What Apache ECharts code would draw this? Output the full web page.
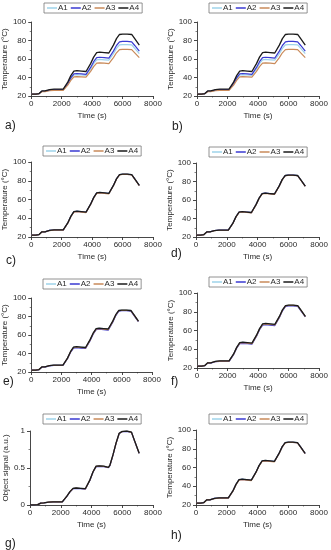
<!DOCTYPE html>
<html>
<head>
<meta charset="utf-8">
<script src="https://cdn.jsdelivr.net/npm/echarts@6/dist/echarts.min.js"></script>
<style>
html,body{margin:0;padding:0;background:#fff;}
#chart{width:331px;height:550px;}
</style>
</head>
<body>
<div id="chart"></div>
<script>
// ---- data ----
const seriesNames = ['A1', 'A2', 'A3', 'A4'];
const panelLabels = ['a)', 'b)', 'c)', 'd)', 'e)', 'f)', 'g)', 'h)'];
const xTicks = [0, 2000, 4000, 6000, 8000];
const tempTicks = [20, 40, 60, 80, 100];
const signalTicks = [0, 0.5, 1];

const time = [0, 300, 500, 600, 700, 900, 1000, 1200, 1500, 1800, 2100, 2200, 2400, 2600, 2800, 3000, 3300, 3600, 3700, 3900, 4100, 4300, 4500, 4800, 5100, 5200, 5400, 5600, 5800, 6000, 6300, 6600, 6800, 7100];

// panels a) and b)
const aA1 = [22, 22, 22.4, 23.6, 24.9, 24.9, 25.3, 26.1, 26.5, 26.5, 26.5, 27.8, 32.8, 38.5, 42.7, 43.1, 42.7, 42.3, 43.5, 49.3, 55.0, 59.1, 59.5, 59.1, 58.7, 59.9, 65.7, 71.5, 75.2, 75.6, 75.6, 75.2, 71.5, 65.7];
const aA2 = [22, 22, 22.4, 23.8, 25.1, 25.1, 25.5, 26.4, 26.8, 26.8, 26.8, 28.1, 33.4, 39.5, 43.9, 44.3, 43.9, 43.4, 44.7, 50.9, 57.1, 61.5, 61.9, 61.5, 61.0, 62.3, 68.5, 74.6, 78.6, 79.0, 79.0, 78.6, 74.6, 68.5];
const aA3 = [22, 22, 22.4, 23.5, 24.6, 24.6, 24.9, 25.7, 26.1, 26.1, 26.1, 27.2, 31.7, 36.9, 40.7, 41.0, 40.7, 40.3, 41.4, 46.6, 51.8, 55.5, 55.9, 55.5, 55.1, 56.3, 61.5, 66.7, 70.1, 70.5, 70.5, 70.1, 66.7, 61.5];
const aA4 = [22, 22, 22.5, 24, 25.5, 25.5, 26, 27, 27.5, 27.5, 27.5, 29, 35, 42, 47, 47.5, 47, 46.5, 48, 55, 62, 67, 67.5, 67, 66.5, 68, 75, 82, 86.5, 87, 87, 86.5, 82, 75];

// panels c), d), h)
const cA1 = [22, 22, 22.5, 24, 25.5, 25.5, 26, 27, 27.5, 27.5, 27.5, 29, 35, 42, 47, 47.5, 47, 46.5, 48, 55, 62, 67, 67.5, 67, 66.5, 68, 75, 82, 86.5, 87, 87, 86.5, 82, 75];
const cA2 = [22, 22, 22.5, 24, 25.5, 25.5, 26, 27, 27.4, 27.4, 27.4, 28.9, 34.9, 41.9, 46.9, 47.4, 46.9, 46.4, 47.9, 54.9, 61.9, 66.9, 67.4, 66.9, 66.4, 67.9, 74.9, 81.9, 86.4, 86.9, 86.9, 86.4, 81.9, 74.9];
const cA3 = [22, 22, 22.4, 23.9, 25.4, 25.4, 25.9, 26.9, 27.3, 27.3, 27.3, 28.8, 34.8, 41.7, 46.6, 47.1, 46.6, 46.1, 47.6, 54.7, 61.7, 66.6, 67.1, 66.6, 66.1, 67.6, 74.7, 81.7, 86.2, 86.7, 86.7, 86.2, 81.7, 74.7];
const cA4 = [22, 22, 22.5, 24, 25.5, 25.5, 26, 27, 27.5, 27.5, 27.5, 29, 35, 42, 47, 47.5, 47, 46.5, 48, 55, 62, 67, 67.5, 67, 66.5, 68, 75, 82, 86.5, 87, 87, 86.5, 82, 75];

// panels e), f)
const eA1 = [22, 22, 22.5, 24, 25.5, 25.5, 26, 27, 27.4, 27.4, 27.4, 28.9, 34.9, 41.8, 46.8, 47.3, 46.8, 46.3, 47.8, 54.8, 61.8, 66.8, 67.3, 66.8, 66.3, 67.8, 74.8, 81.8, 86.4, 86.9, 86.9, 86.4, 81.9, 74.9];
const eA2 = [22, 22, 22.4, 23.8, 25.2, 25.2, 25.7, 26.7, 27.1, 27.1, 27.1, 28.6, 34.3, 41.2, 45.9, 46.3, 45.9, 45.4, 46.8, 53.9, 60.9, 65.8, 66.2, 65.8, 65.3, 66.8, 73.9, 81.0, 85.8, 86.3, 86.3, 85.8, 81.2, 74.4];
const eA3 = [22, 22, 22.5, 23.9, 25.4, 25.4, 25.9, 26.9, 27.3, 27.3, 27.3, 28.8, 34.7, 41.6, 46.5, 47.0, 46.5, 46.0, 47.5, 54.5, 61.5, 66.4, 66.9, 66.4, 65.9, 67.4, 74.5, 81.6, 86.2, 86.7, 86.7, 86.2, 81.7, 74.8];
const eA4 = [22, 22, 22.5, 24, 25.5, 25.5, 26, 27, 27.5, 27.5, 27.5, 29, 35, 42, 47, 47.5, 47, 46.5, 48, 55, 62, 67, 67.5, 67, 66.5, 68, 75, 82, 86.5, 87, 87, 86.5, 82, 75];

// panel g) object signal
const gA1 = [0, 0, 0.005, 0.015, 0.025, 0.028, 0.03, 0.038, 0.042, 0.042, 0.042, 0.06, 0.12, 0.18, 0.224, 0.229, 0.224, 0.219, 0.239, 0.34, 0.45, 0.524, 0.529, 0.524, 0.509, 0.539, 0.68, 0.84, 0.968, 0.993, 0.998, 0.983, 0.868, 0.70];
const gA2 = [0, 0, 0.005, 0.015, 0.025, 0.028, 0.03, 0.037, 0.041, 0.041, 0.041, 0.058, 0.118, 0.178, 0.22, 0.225, 0.22, 0.215, 0.235, 0.335, 0.445, 0.518, 0.523, 0.518, 0.503, 0.533, 0.675, 0.835, 0.965, 0.99, 0.995, 0.98, 0.865, 0.698];
const gA3 = [0, 0, 0.005, 0.015, 0.025, 0.028, 0.03, 0.038, 0.042, 0.042, 0.042, 0.06, 0.119, 0.179, 0.223, 0.228, 0.223, 0.218, 0.238, 0.338, 0.448, 0.522, 0.527, 0.522, 0.507, 0.537, 0.678, 0.838, 0.967, 0.992, 0.997, 0.982, 0.867, 0.70];
const gA4 = [0, 0, 0.005, 0.015, 0.025, 0.028, 0.03, 0.038, 0.042, 0.042, 0.042, 0.06, 0.12, 0.18, 0.225, 0.23, 0.225, 0.22, 0.24, 0.34, 0.45, 0.525, 0.53, 0.525, 0.51, 0.54, 0.68, 0.84, 0.97, 0.995, 1.0, 0.985, 0.87, 0.70];

const panelData = [
  [aA1, aA2, aA3, aA4],
  [aA1, aA2, aA3, aA4],
  [cA1, cA2, cA3, cA4],
  [cA1, cA2, cA3, cA4],
  [eA1, eA2, eA3, eA4],
  [eA1, eA2, eA3, eA4],
  [gA1, gA2, gA3, gA4],
  [cA1, cA2, cA3, cA4]
];

// ---- layout / style ----
const colors = ['#9ed3ea', '#3a3ad2', '#c98a5a', '#1a1a1a'];
const FONT = 'Liberation Sans, Arial, sans-serif';
const TXT = '#2a2a2a';
const grids = [
  {left: 31, top: 22, width: 122, height: 74},
  {left: 197, top: 22, width: 122, height: 74},
  {left: 31, top: 162, width: 122, height: 75},
  {left: 196, top: 163, width: 127, height: 74},
  {left: 31, top: 298, width: 121, height: 74},
  {left: 197, top: 293, width: 123, height: 75},
  {left: 30, top: 431, width: 123, height: 74},
  {left: 196, top: 430, width: 123, height: 75}
];
const legendPos = [
  [44, 3], [209, 3], [43, 146], [209, 147], [43, 279], [209, 277], [43, 414], [209, 414]
];
const labelPos = [
  [5, 127], [172, 128], [6, 262], [171, 255], [3, 383], [171, 383], [5, 545], [171, 537]
];

const plainNum = v => String(v);

const option = {
  animation: false,
  backgroundColor: '#fff',
  grid: grids.map(g => Object.assign({containLabel: false}, g)),
  xAxis: [], yAxis: [], series: [], legend: [], graphic: []
};

function axisCommon() {
  return {
    nameTextStyle: {fontFamily: FONT, fontSize: 8, color: TXT},
    axisLine: {show: true, lineStyle: {color: '#333', width: 0.9}},
    axisTick: {show: true, inside: false, length: 3, lineStyle: {color: '#333', width: 0.9}},
    minorTick: {show: true, splitNumber: 2, length: 1.5, lineStyle: {color: '#333', width: 0.6}},
    splitLine: {show: false}
  };
}

grids.forEach((g, i) => {
  const isSignal = i === 6;
  option.xAxis.push(Object.assign(axisCommon(), {
    type: 'value', gridIndex: i, min: xTicks[0], max: xTicks[xTicks.length - 1], interval: 2000,
    name: 'Time (s)', nameLocation: 'middle', nameGap: 16,
    axisLabel: {fontFamily: FONT, fontSize: 8, color: TXT, margin: 4, formatter: plainNum}
  }));
  option.yAxis.push(Object.assign(axisCommon(), isSignal ? {
    type: 'value', gridIndex: i, min: signalTicks[0], max: signalTicks[signalTicks.length - 1], interval: 0.5,
    name: 'Object signal (a.u.)', nameLocation: 'middle', nameGap: 15,
    axisLabel: {fontFamily: FONT, fontSize: 8, color: TXT, margin: 5, formatter: plainNum}
  } : {
    type: 'value', gridIndex: i, min: tempTicks[0], max: tempTicks[tempTicks.length - 1], interval: 20,
    name: 'Temperature (°C)', nameLocation: 'middle', nameGap: 17,
    axisLabel: {fontFamily: FONT, fontSize: 8, color: TXT, margin: 5, formatter: plainNum}
  }));
  panelData[i].forEach((arr, k) => {
    option.series.push({
      type: 'line', name: seriesNames[k], xAxisIndex: i, yAxisIndex: i,
      data: time.map((t, j) => [t, arr[j]]),
      symbol: 'none', smooth: false,
      lineStyle: {color: colors[k], width: k === 3 ? 1.3 : 1.2},
      itemStyle: {color: colors[k]}
    });
  });
  option.legend.push({
    data: seriesNames, left: legendPos[i][0], top: legendPos[i][1], orient: 'horizontal',
    icon: 'rect', itemWidth: 10, itemHeight: 1.5, itemGap: 3,
    padding: [1, 3, 1, 3], borderColor: '#777', borderWidth: 0.8,
    selectedMode: false,
    textStyle: {fontFamily: FONT, fontSize: 8, color: TXT, padding: [0, 0, 0, -4]}
  });
  option.graphic.push({
    type: 'text', left: labelPos[i][0], top: labelPos[i][1] - 7,
    style: {text: panelLabels[i], font: '12px ' + FONT, fill: '#222'}
  });
});

const chart = echarts.init(document.getElementById('chart'), null, {renderer: 'canvas'});
chart.setOption(option);
</script>
</body>
</html>
